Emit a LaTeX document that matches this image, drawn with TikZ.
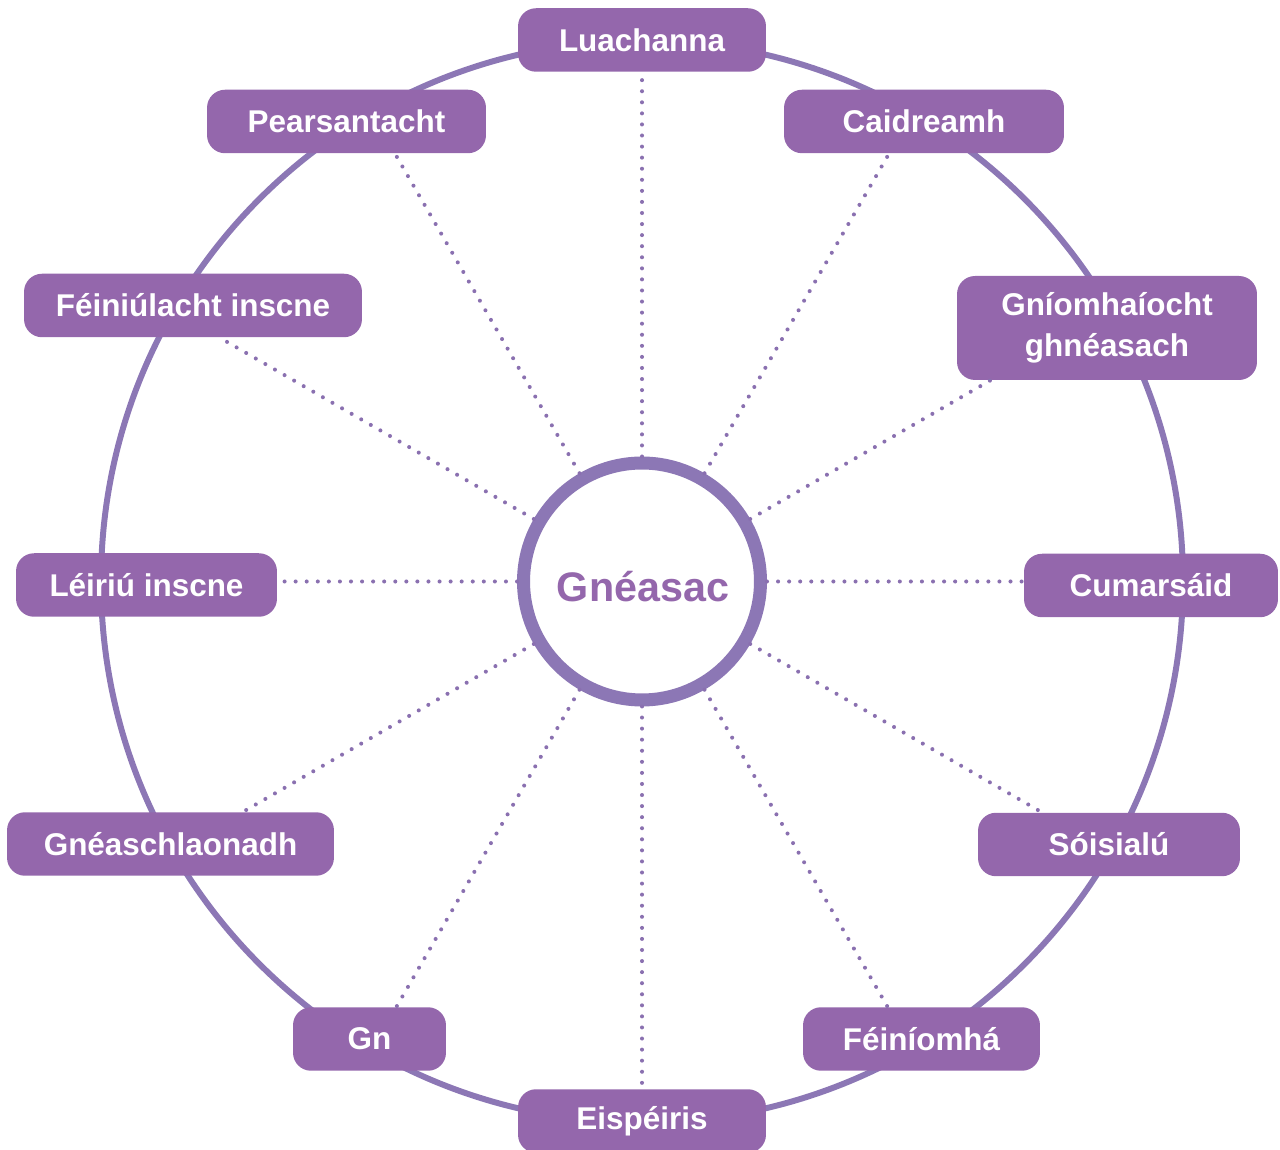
\documentclass[tikz,border=0pt]{standalone}
\usepackage{fontspec}
\setmainfont{Liberation Sans}
\usetikzlibrary{intersections}
\definecolor{boxfill}{HTML}{9467AC}
\definecolor{ringcol}{HTML}{8C77B5}
\definecolor{spokecol}{HTML}{8A70B0}
\begin{document}
\begin{tikzpicture}[x=0.02cm,y=0.02cm,
  topic/.style={fill=boxfill,draw=none,rounded corners=0.36cm,inner sep=0pt,
    text=white,font=\fontsize{17.9}{23.3}\selectfont\bfseries,align=center,
    minimum height=1.27cm},
  hub/.style={circle,draw=ringcol,line width=7.4pt,fill=white,minimum size=4.74cm,
    inner sep=0pt,text=boxfill,font=\fontsize{23.5}{27}\selectfont\bfseries,
    text height=0.82cm,text depth=0pt},
  spoke/.style={draw=spokecol,line width=2.3pt,line cap=round,dash pattern=on 0pt off 6.3pt},
  rim/.style={draw=ringcol,line width=3.4pt}]
\useasboundingbox (0,0) rectangle (1280,1149);
\coordinate (o) at (642,567.5);
\draw[rim] (o) circle[radius=541];
\node[hub] (c) at (o) {\hspace{0.04cm}Gnéasac};
\node[topic,minimum width=4.96cm] (lua) at (642,1109) {Luachanna};
\node[topic,minimum width=5.58cm] (pear) at (346.5,1027.5) {Pearsantacht};
\node[topic,minimum width=5.6cm] (cai) at (924,1027.5) {Caidreamh};
\node[topic,minimum width=6.76cm] (fein) at (193,843.5) {Féiniúlacht inscne};
\node[topic,minimum width=6.0cm,minimum height=2.08cm] (gnio) at (1107,821) {Gníomhaíocht\\ghnéasach};
\node[topic,minimum width=5.22cm] (leir) at (146.5,564) {Léiriú inscne};
\node[topic,minimum width=5.08cm] (cum) at (1151,563.5) {Cumarsáid};
\node[topic,minimum width=6.54cm] (gnea) at (170.5,305) {Gnéaschlaonadh};
\node[topic,minimum width=5.24cm] (soi) at (1109,304.5) {Sóisialú};
\node[topic,minimum width=3.06cm] (gn) at (369.5,110) {Gn};
\node[topic,minimum width=4.74cm] (feini) at (921.5,110) {Féiníomhá};
\node[topic,minimum width=4.96cm] (eis) at (642,28) {Eispéiris};
\foreach \n/\a/\p/\q in {lua/90/south west/south east, pear/120/south west/south east,
  cai/60/south west/south east, fein/150/south west/south east, gnio/30/south west/south east,
  leir/180/north east/south east, cum/0/north west/south west,
  gnea/210/north west/north east, soi/330/north west/north east,
  gn/240/north west/north east, feini/300/north west/north east, eis/270/north west/north east}{
  \coordinate (r\n) at ([shift={(\a:800)}]o);
  \path[name path=ray] (o) -- (r\n);
  \path[name path=edge] (\n.\p) -- (\n.\q);
  \path[name intersections={of=ray and edge, by=e\n}];
  \draw[spoke] (c.\a) -- (e\n);
}
\end{tikzpicture}
\end{document}
